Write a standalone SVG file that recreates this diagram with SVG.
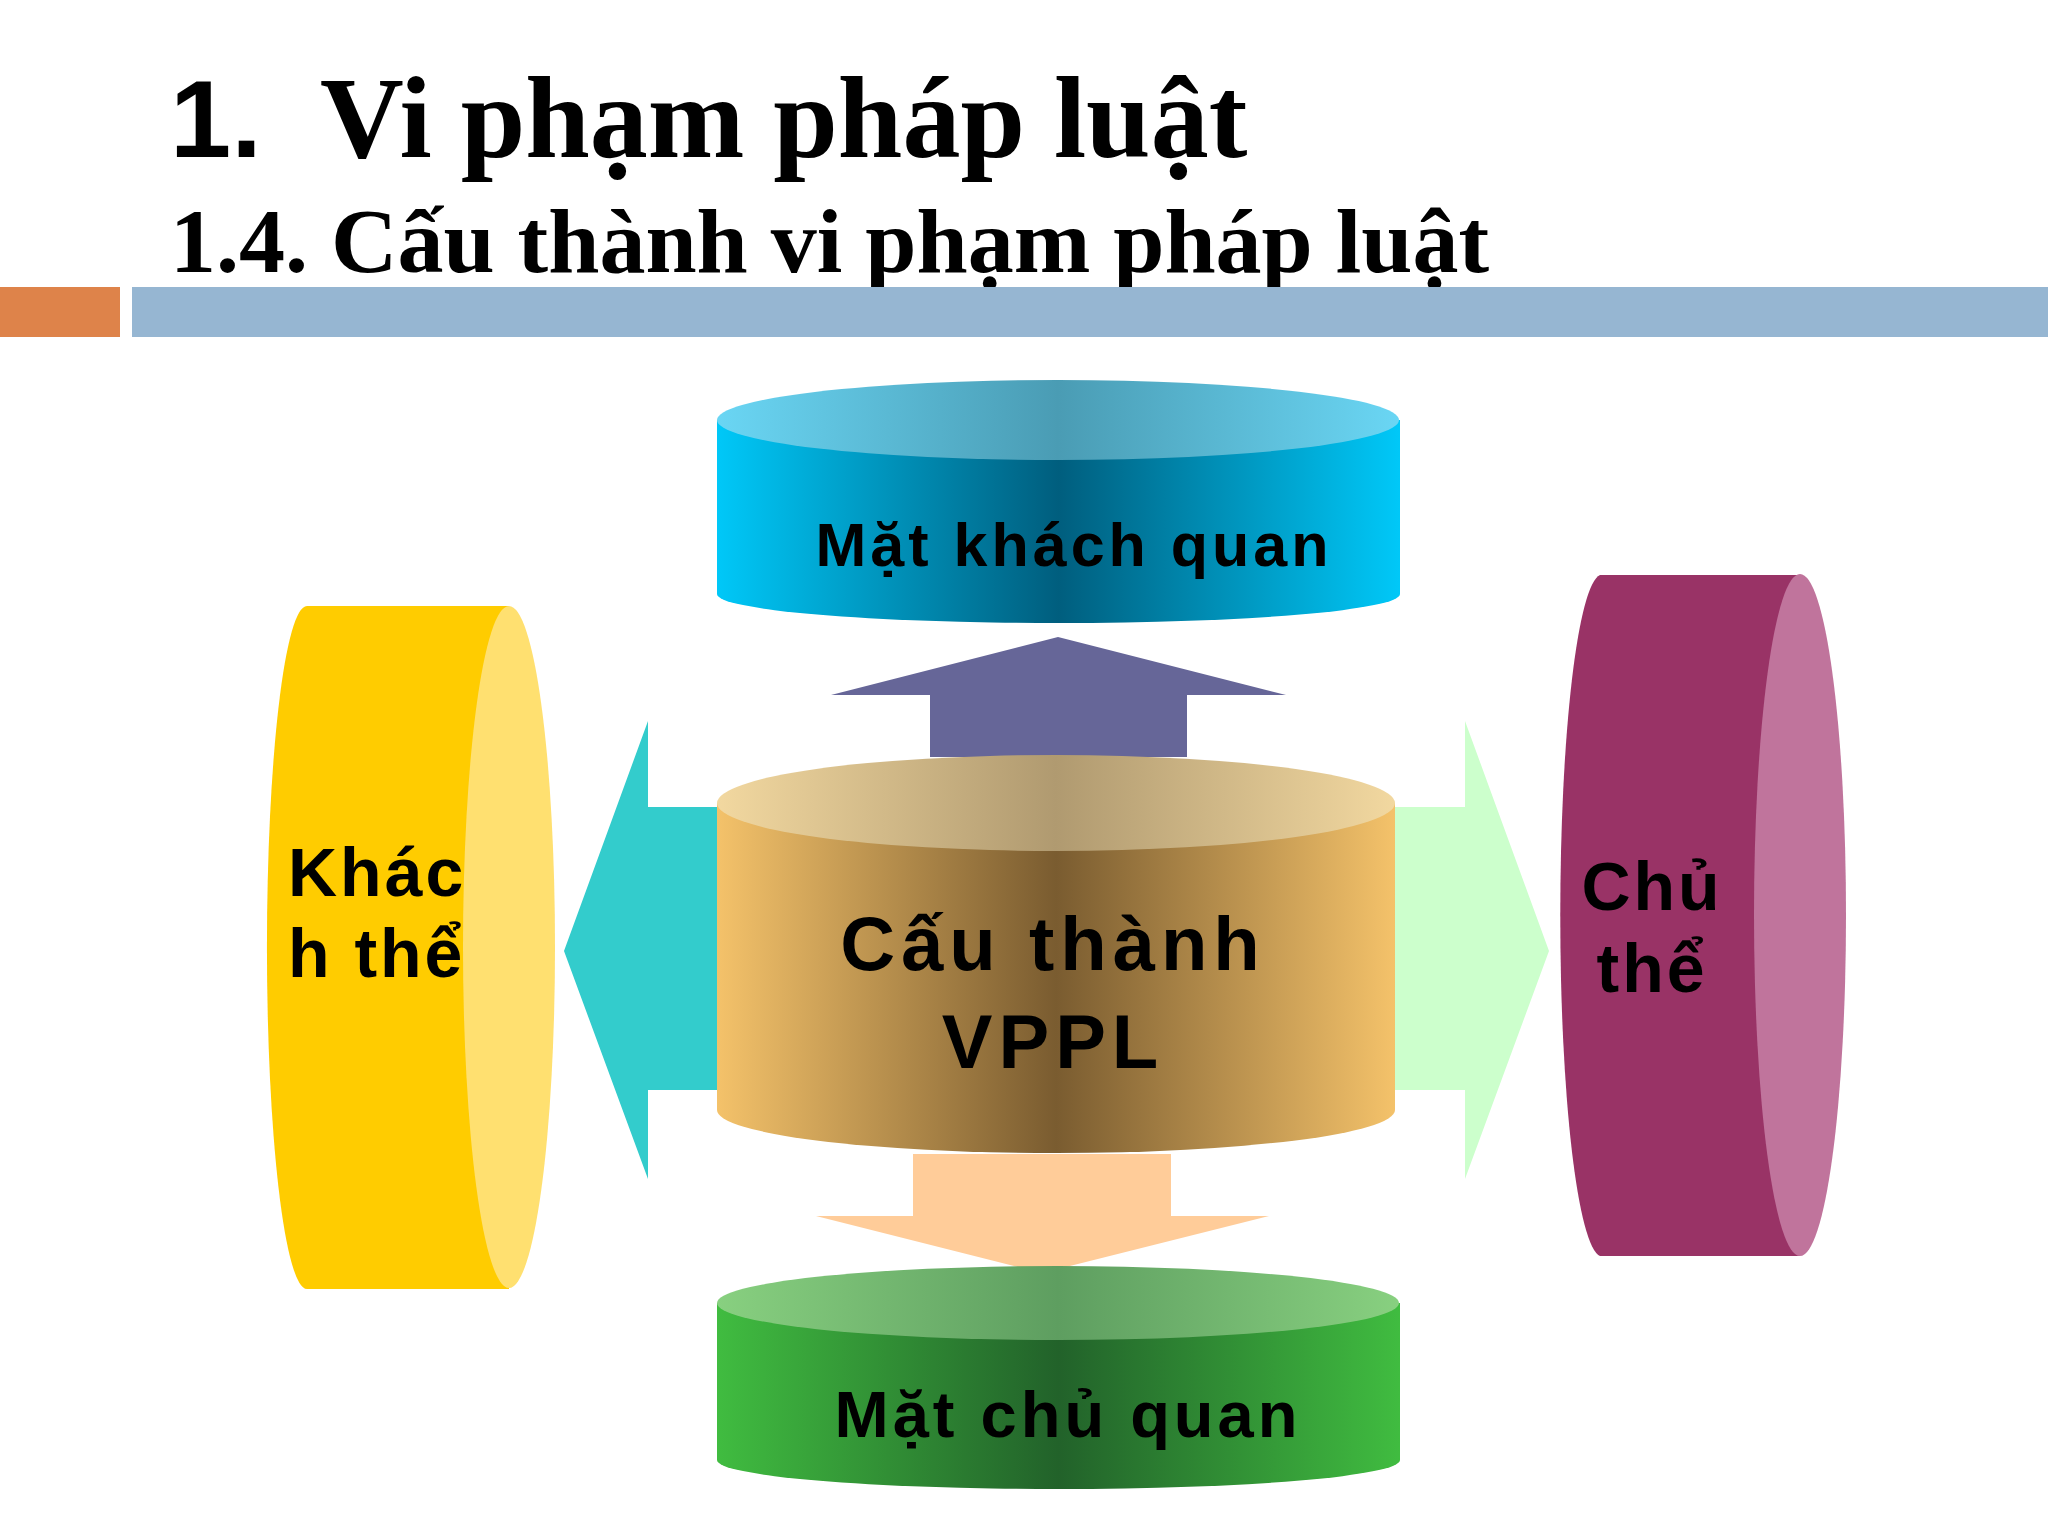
<svg xmlns="http://www.w3.org/2000/svg" width="2048" height="1536" viewBox="0 0 2048 1536">
<defs>
<linearGradient id="gBlue" x1="0" x2="1" y1="0" y2="0"><stop offset="0" stop-color="#00C8F8"/><stop offset="0.5" stop-color="#005E7E"/><stop offset="1" stop-color="#00C8F8"/></linearGradient>
<linearGradient id="gBlueTop" x1="0" x2="1"><stop offset="0" stop-color="#6AD6F4"/><stop offset="0.5" stop-color="#4A9CB4"/><stop offset="1" stop-color="#6AD6F4"/></linearGradient>
<linearGradient id="gGold" x1="0" x2="1"><stop offset="0" stop-color="#F4C26A"/><stop offset="0.5" stop-color="#7A5C30"/><stop offset="1" stop-color="#F4C26A"/></linearGradient>
<linearGradient id="gGoldTop" x1="0" x2="1"><stop offset="0" stop-color="#F2D8A0"/><stop offset="0.5" stop-color="#B09A70"/><stop offset="1" stop-color="#F2D8A0"/></linearGradient>
<linearGradient id="gGreen" x1="0" x2="1"><stop offset="0" stop-color="#40BC40"/><stop offset="0.5" stop-color="#22622A"/><stop offset="1" stop-color="#40BC40"/></linearGradient>
<linearGradient id="gGreenTop" x1="0" x2="1"><stop offset="0" stop-color="#88D080"/><stop offset="0.5" stop-color="#5E9E60"/><stop offset="1" stop-color="#88D080"/></linearGradient>
</defs>
<style>
.t{font-family:"Liberation Serif",serif;font-weight:bold;fill:#000}
.l{font-family:"Liberation Sans",Arial,sans-serif;font-weight:bold;fill:#000;letter-spacing:4px}
</style>
<rect width="2048" height="1536" fill="#fff"/>
<g id="header">
<text x="170" y="157" font-size="110" font-family="Liberation Sans,sans-serif" font-weight="bold" fill="#000">1.</text>
<text class="t" x="320" y="157" font-size="116">Vi phạm pháp luật</text>
<text class="t" x="170" y="272" font-size="92">1.4. Cấu thành vi phạm pháp luật</text>
<rect x="0" y="287" width="120" height="50" fill="#DE834A"/>
<rect x="132" y="287" width="1916" height="50" fill="#96B6D2"/>
</g>
<g id="connectors">
<polygon points="1058,637 1286,695 1187,695 1187,757 930,757 930,695 831,695" fill="#666698"/>
<polygon points="564,951 648,721 648,807 717,807 717,1090 648,1090 648,1179" fill="#33CCCC"/>
<polygon points="1549,951 1465,721 1465,807 1395,807 1395,1090 1465,1090 1465,1179" fill="#CCFFCC"/>
<polygon points="1042,1273 1269,1216 1171,1216 1171,1154 913,1154 913,1216 816,1216" fill="#FFCC99"/>
</g>
<g id="n-khachquan">
<path d="M717,420 L717,594 A341,29 0 0 0 1400,594 L1400,420 Z" fill="url(#gBlue)"/>
<ellipse cx="1058" cy="420" rx="341" ry="40" fill="url(#gBlueTop)"/>
<text class="l" x="1074" y="566" font-size="61" text-anchor="middle">Mặt khách quan</text>
</g>
<g id="n-center">
<path d="M717,803 L717,1110 A339,43 0 0 0 1395,1110 L1395,803 Z" fill="url(#gGold)"/>
<ellipse cx="1056" cy="803" rx="339" ry="48" fill="url(#gGoldTop)"/>
<text class="l" x="1053" y="970" font-size="76" text-anchor="middle" style="letter-spacing:6px">Cấu thành</text>
<text class="l" x="1053" y="1068" font-size="76" text-anchor="middle" style="letter-spacing:6px">VPPL</text>
</g>
<g id="n-chuquan">
<path d="M717,1303 L717,1460 A341,29 0 0 0 1400,1460 L1400,1303 Z" fill="url(#gGreen)"/>
<ellipse cx="1058" cy="1303" rx="341" ry="37" fill="url(#gGreenTop)"/>
<text class="l" x="1068" y="1437" font-size="65" text-anchor="middle">Mặt chủ quan</text>
</g>
<g id="n-khachthe">
<path d="M509,606 L307,606 A40,341 0 0 0 307,1289 L509,1289 Z" fill="#FFCC00"/>
<ellipse cx="509" cy="947" rx="46" ry="341" fill="#FFE070"/>
<text class="l" x="288" y="896" font-size="68" style="letter-spacing:3px">Khác</text>
<text class="l" x="288" y="977" font-size="68" style="letter-spacing:3px">h thể</text>
</g>
<g id="n-chuthe">
<path d="M1800,575 L1600,575 A42,341 0 0 0 1600,1256 L1800,1256 Z" fill="#993366"/>
<ellipse cx="1800" cy="915" rx="46" ry="341" fill="#C0749C"/>
<text class="l" x="1652" y="910" font-size="68" text-anchor="middle" style="letter-spacing:3px">Chủ</text>
<text class="l" x="1652" y="992" font-size="68" text-anchor="middle" style="letter-spacing:3px">thể</text>
</g>
</svg>
